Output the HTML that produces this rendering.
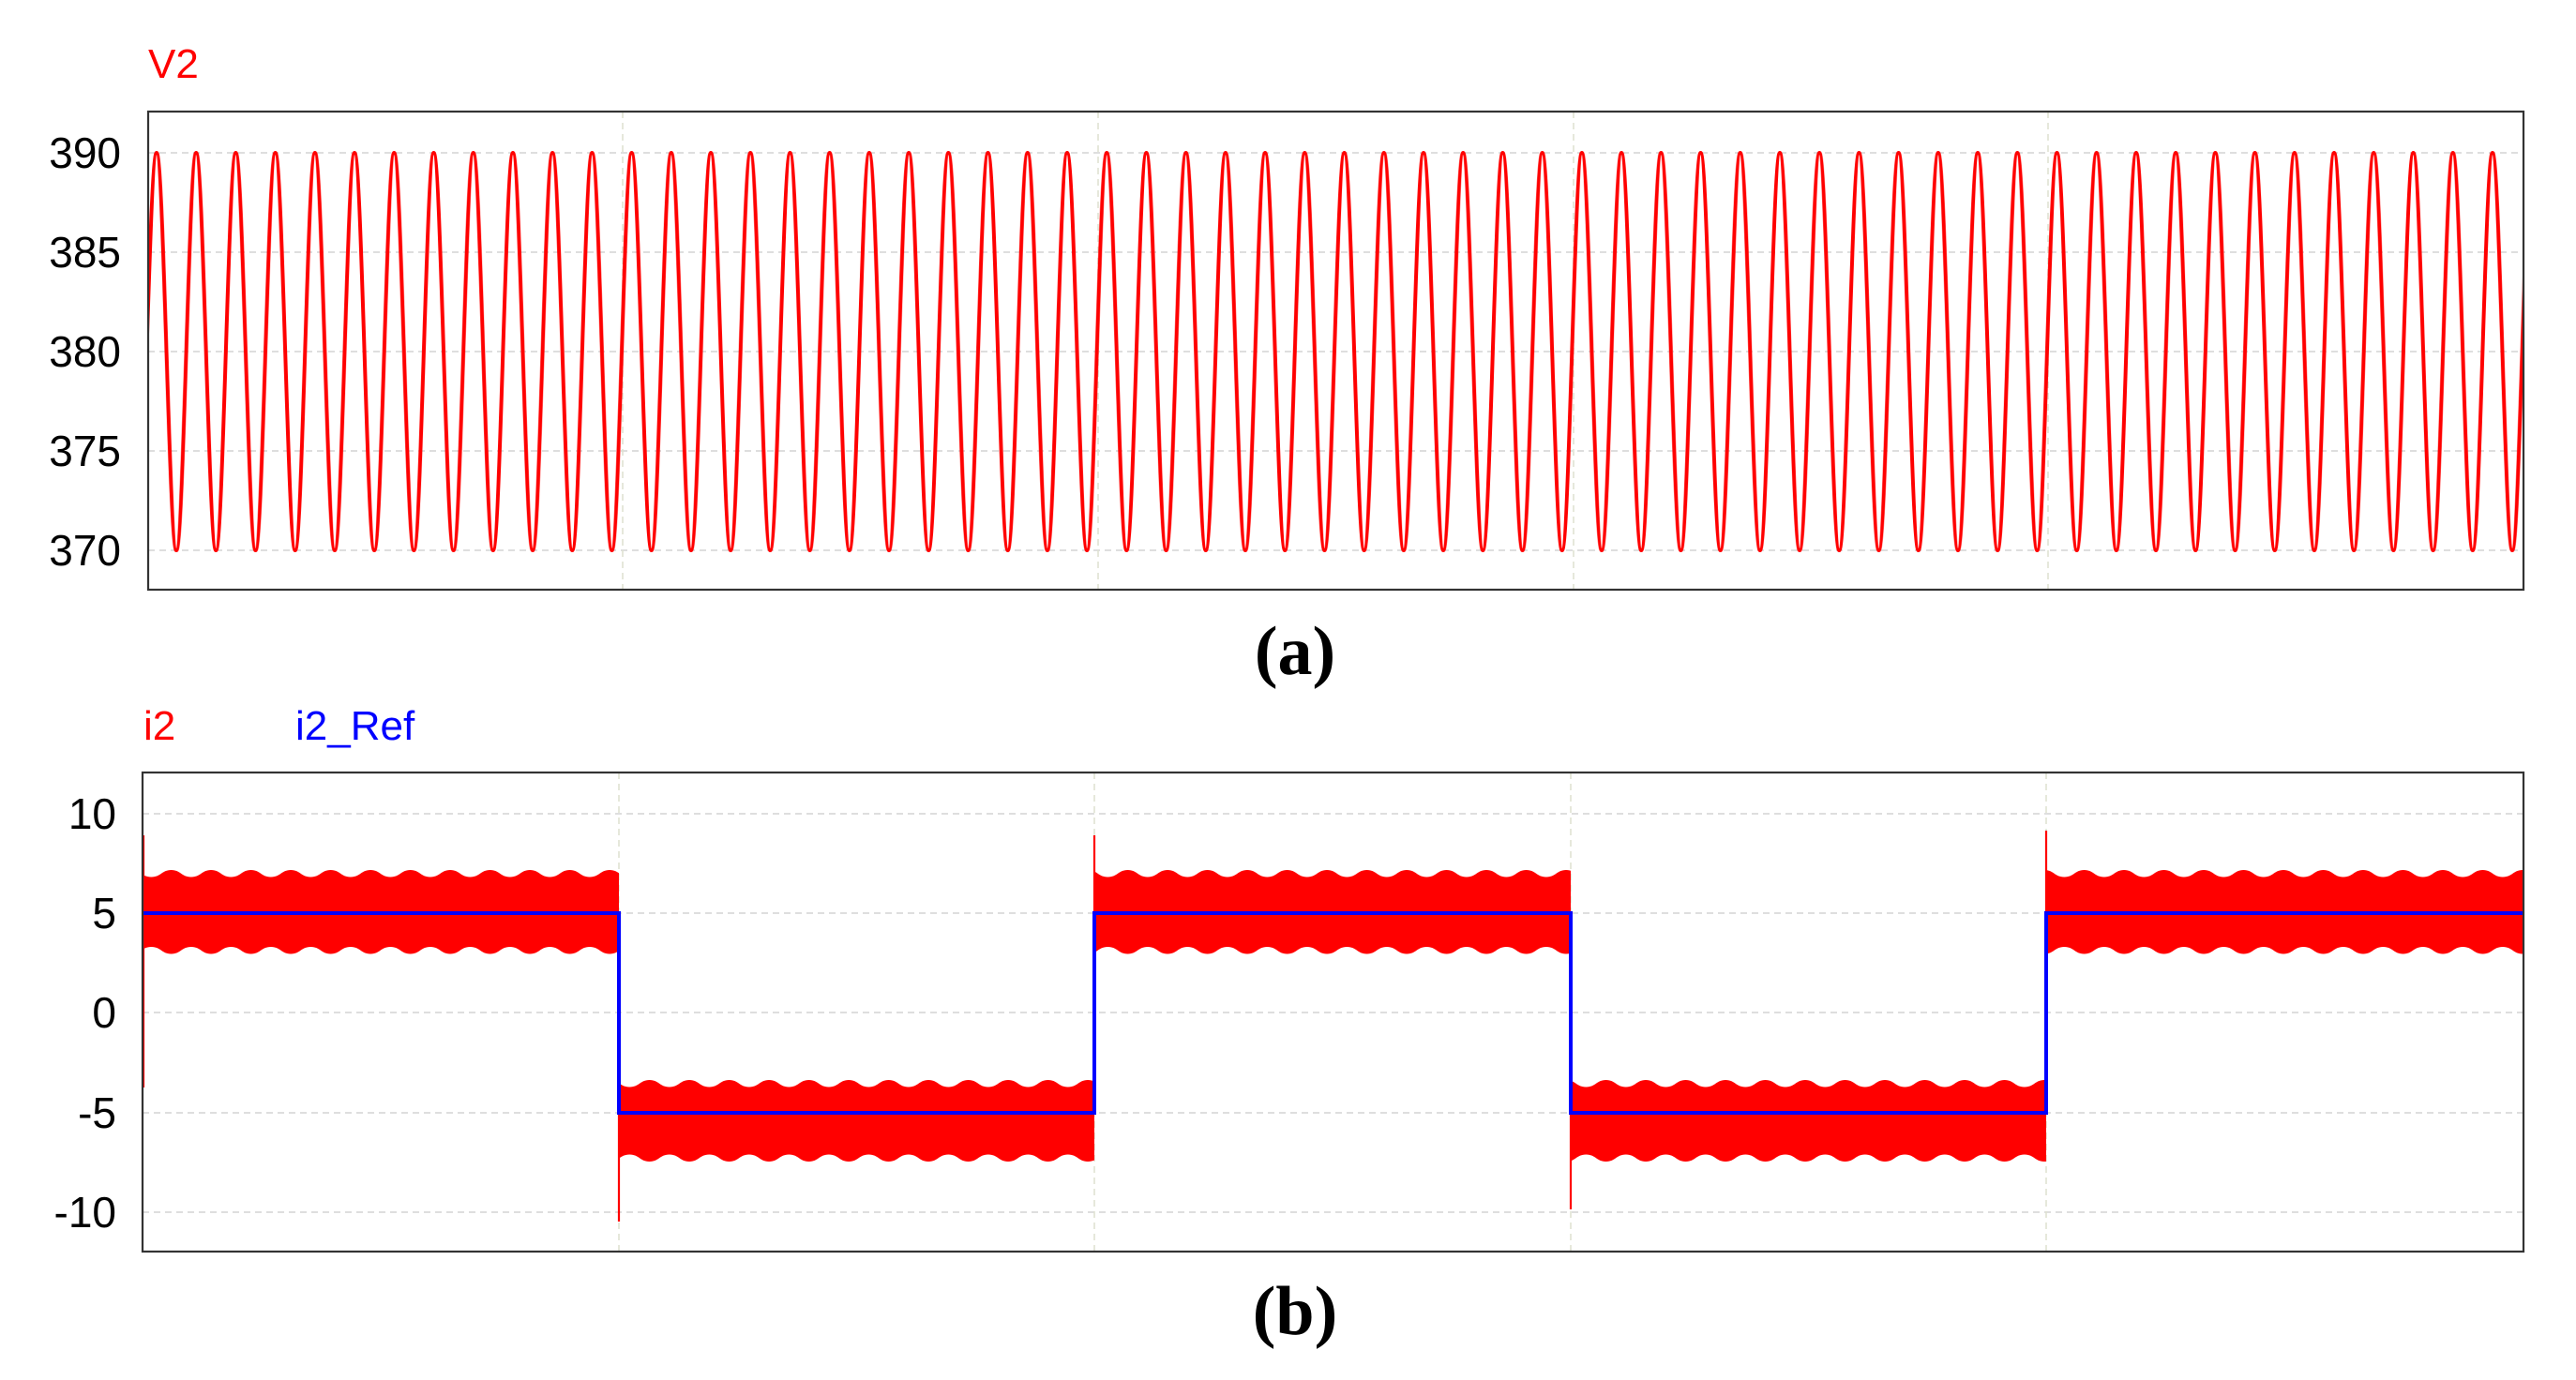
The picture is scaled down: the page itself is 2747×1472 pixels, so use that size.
<!DOCTYPE html>
<html><head><meta charset="utf-8"><style>
html,body{margin:0;padding:0;background:#fff;}
svg{display:block;}
</style></head><body>
<svg width="2747" height="1472" viewBox="0 0 2747 1472" xmlns="http://www.w3.org/2000/svg">
<defs>
<pattern id="sine" patternUnits="userSpaceOnUse" x="166.95" y="0" width="42.22" height="1472">
<path d="M-10.555,375 C-6.711,253.7 -3.69,163 0,163 C3.69,163 6.711,253.7 10.555,375 C14.399,496.3 17.42,587 21.11,587 C24.8,587 27.821,496.3 31.665,375 C35.509,253.7 38.53,163 42.22,163 C45.91,163 48.93,253.7 52.775,375" fill="none" stroke="#ff0000" stroke-width="4"/>
</pattern>
<pattern id="bandp" patternUnits="userSpaceOnUse" x="2222.6" y="0" width="42.5" height="1472">
<path d="M-1,928 L0,928 C10,928 11,935.5 21.25,935.5 C31.5,935.5 32.5,928 42.5,928 L43.5,928 L43.5,1017.5 L42.5,1017.5 C32.5,1017.5 31.5,1010 21.25,1010 C11,1010 10,1017.5 0,1017.5 L-1,1017.5 Z" fill="#ff0000"/>
</pattern>
<pattern id="bandn" patternUnits="userSpaceOnUse" x="2222.6" y="0" width="42.5" height="1472">
<path d="M-1,1152 L0,1152 C10,1152 11,1159.5 21.25,1159.5 C31.5,1159.5 32.5,1152 42.5,1152 L43.5,1152 L43.5,1239 L42.5,1239 C32.5,1239 31.5,1231.5 21.25,1231.5 C11,1231.5 10,1239 0,1239 L-1,1239 Z" fill="#ff0000"/>
</pattern>
</defs>

<g stroke="#d4d4d4" stroke-width="1.6" stroke-dasharray="7,5">
<line x1="158" y1="163" x2="2691" y2="163"/>
<line x1="158" y1="269" x2="2691" y2="269"/>
<line x1="158" y1="375" x2="2691" y2="375"/>
<line x1="158" y1="481" x2="2691" y2="481"/>
<line x1="158" y1="587" x2="2691" y2="587"/>
</g>
<g stroke="#dfe2d2" stroke-width="1.6" stroke-dasharray="7,5">
<line x1="664" y1="119" x2="664" y2="629"/>
<line x1="1171" y1="119" x2="1171" y2="629"/>
<line x1="1678" y1="119" x2="1678" y2="629"/>
<line x1="2184" y1="119" x2="2184" y2="629"/>
</g>
<rect x="158" y="140" width="2533" height="470" fill="url(#sine)"/>
<rect x="158" y="119" width="2533" height="510" fill="none" stroke="#333" stroke-width="2.2"/>
<g font-family="Liberation Sans, sans-serif" font-size="46" fill="#000" text-anchor="end">
<text x="129" y="179">390</text>
<text x="129" y="285">385</text>
<text x="129" y="391">380</text>
<text x="129" y="497">375</text>
<text x="129" y="603">370</text>
</g>
<text x="158" y="83" font-family="Liberation Sans, sans-serif" font-size="44" fill="#ff0000">V2</text>
<text x="1381" y="719" font-family="Liberation Serif, serif" font-size="74" font-weight="bold" text-anchor="middle" fill="#000">(a)</text>

<g stroke="#d4d4d4" stroke-width="1.6" stroke-dasharray="7,5">
<line x1="152" y1="868" x2="2691" y2="868"/>
<line x1="152" y1="974" x2="2691" y2="974"/>
<line x1="152" y1="1080" x2="2691" y2="1080"/>
<line x1="152" y1="1187" x2="2691" y2="1187"/>
<line x1="152" y1="1293" x2="2691" y2="1293"/>
</g>
<g stroke="#dfe2d2" stroke-width="1.6" stroke-dasharray="7,5">
<line x1="660" y1="824" x2="660" y2="1335"/>
<line x1="1167" y1="824" x2="1167" y2="1335"/>
<line x1="1675" y1="824" x2="1675" y2="1335"/>
<line x1="2182" y1="824" x2="2182" y2="1335"/>
</g>
<rect x="153" y="900" width="507" height="140" fill="url(#bandp)"/>
<rect x="1167" y="900" width="508" height="140" fill="url(#bandp)"/>
<rect x="2182" y="900" width="509" height="140" fill="url(#bandp)"/>
<rect x="660" y="1130" width="507" height="130" fill="url(#bandn)"/>
<rect x="1675" y="1130" width="507" height="130" fill="url(#bandn)"/>
<g stroke="#ff0000" stroke-width="2.2">
<line x1="153" y1="891" x2="153" y2="1160"/>
<line x1="660" y1="1010" x2="660" y2="1303"/>
<line x1="1167" y1="891" x2="1167" y2="1160"/>
<line x1="1675" y1="1010" x2="1675" y2="1290"/>
<line x1="2182" y1="886" x2="2182" y2="1160"/>
</g>
<polyline points="152,974 660,974 660,1187 1167,1187 1167,974 1675,974 1675,1187 2182,1187 2182,974 2691,974" fill="none" stroke="#0000ff" stroke-width="4"/>
<rect x="152" y="824" width="2539" height="511" fill="none" stroke="#333" stroke-width="2.2"/>
<g font-family="Liberation Sans, sans-serif" font-size="46" fill="#000" text-anchor="end">
<text x="124" y="884">10</text>
<text x="124" y="990">5</text>
<text x="124" y="1096">0</text>
<text x="124" y="1203">-5</text>
<text x="124" y="1309">-10</text>
</g>
<text x="153" y="789" font-family="Liberation Sans, sans-serif" font-size="44" fill="#ff0000">i2</text>
<text x="315" y="789" font-family="Liberation Sans, sans-serif" font-size="44" fill="#0000ff">i2_Ref</text>
<text x="1381" y="1423" font-family="Liberation Serif, serif" font-size="74" font-weight="bold" text-anchor="middle" fill="#000">(b)</text>
</svg>
</body></html>
